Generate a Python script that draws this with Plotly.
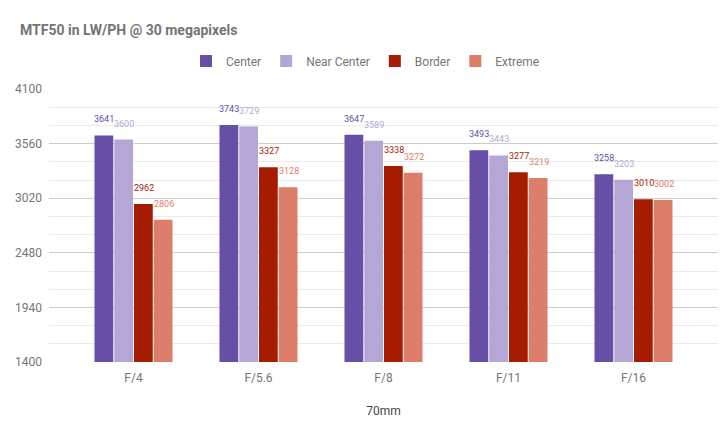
import plotly.graph_objects as go

categories = ["F/4", "F/5.6", "F/8", "F/11", "F/16"]
series_names = ["Center", "Near Center", "Border", "Extreme"]
center = [3641, 3743, 3647, 3493, 3258]
near_center = [3600, 3729, 3589, 3443, 3203]
border = [2962, 3327, 3338, 3277, 3010]
extreme = [2806, 3128, 3272, 3219, 3002]
colors = ["#674ea7", "#b4a7d6", "#a61c00", "#dd7e6b"]
y_ticks = [1400, 1940, 2480, 3020, 3560, 4100]

all_series = [center, near_center, border, extreme]

fig = go.Figure()
annotations = []
for i, (name, vals, col) in enumerate(zip(series_names, all_series, colors)):
    fig.add_trace(go.Bar(
        x=categories, y=vals, name=name, marker=dict(color=col, line=dict(width=0)),
    ))
    for c, v in zip(categories, vals):
        annotations.append(dict(
            x=c, y=v, xref="x", yref="y", text=str(v), showarrow=False,
            xshift=(i - 1.5) * 20, yshift=16, yanchor="middle", xanchor="center",
            font=dict(family="Roboto", size=9, color=col),
        ))

fig.update_layout(
    width=726, height=442,
    margin=dict(l=49, r=8, t=89, b=80),
    paper_bgcolor="white", plot_bgcolor="white",
    barmode="group", bargap=0.368, bargroupgap=0.05,
    font=dict(family="Roboto", color="#757575", size=12),
    title=dict(text="MTF50 in LW/PH @ 30 megapixels", x=20/726, xanchor="left",
               y=1 - 30/442, yanchor="middle",
               font=dict(family="Roboto", size=14, color="#757575", weight="bold")),
    legend=dict(orientation="h", x=0.4731, xanchor="center", y=1 + 28/273, yanchor="middle",
                font=dict(family="Roboto", size=12, color="#757575"),
                itemwidth=30, traceorder="normal"),
    annotations=annotations,
    xaxis=dict(type="category", range=[-0.676, 4.676], showgrid=False, showline=False,
               ticks="", tickfont=dict(size=12, color="#757575"), ticklabelstandoff=7,
               title=dict(text="70mm", font=dict(size=12, color="#444444"), standoff=22)),
    yaxis=dict(range=[1400, 4100], tick0=1400, dtick=540, tickvals=y_ticks,
               showgrid=True, gridcolor="#cccccc", gridwidth=1,
               zeroline=False, showline=False, ticks="",
               tickfont=dict(size=12, color="#757575"), ticklabelstandoff=6,
               minor=dict(tick0=1400, dtick=180, showgrid=True, gridcolor="#ebebeb", gridwidth=1)),
)

fig.write_html("out.html")
